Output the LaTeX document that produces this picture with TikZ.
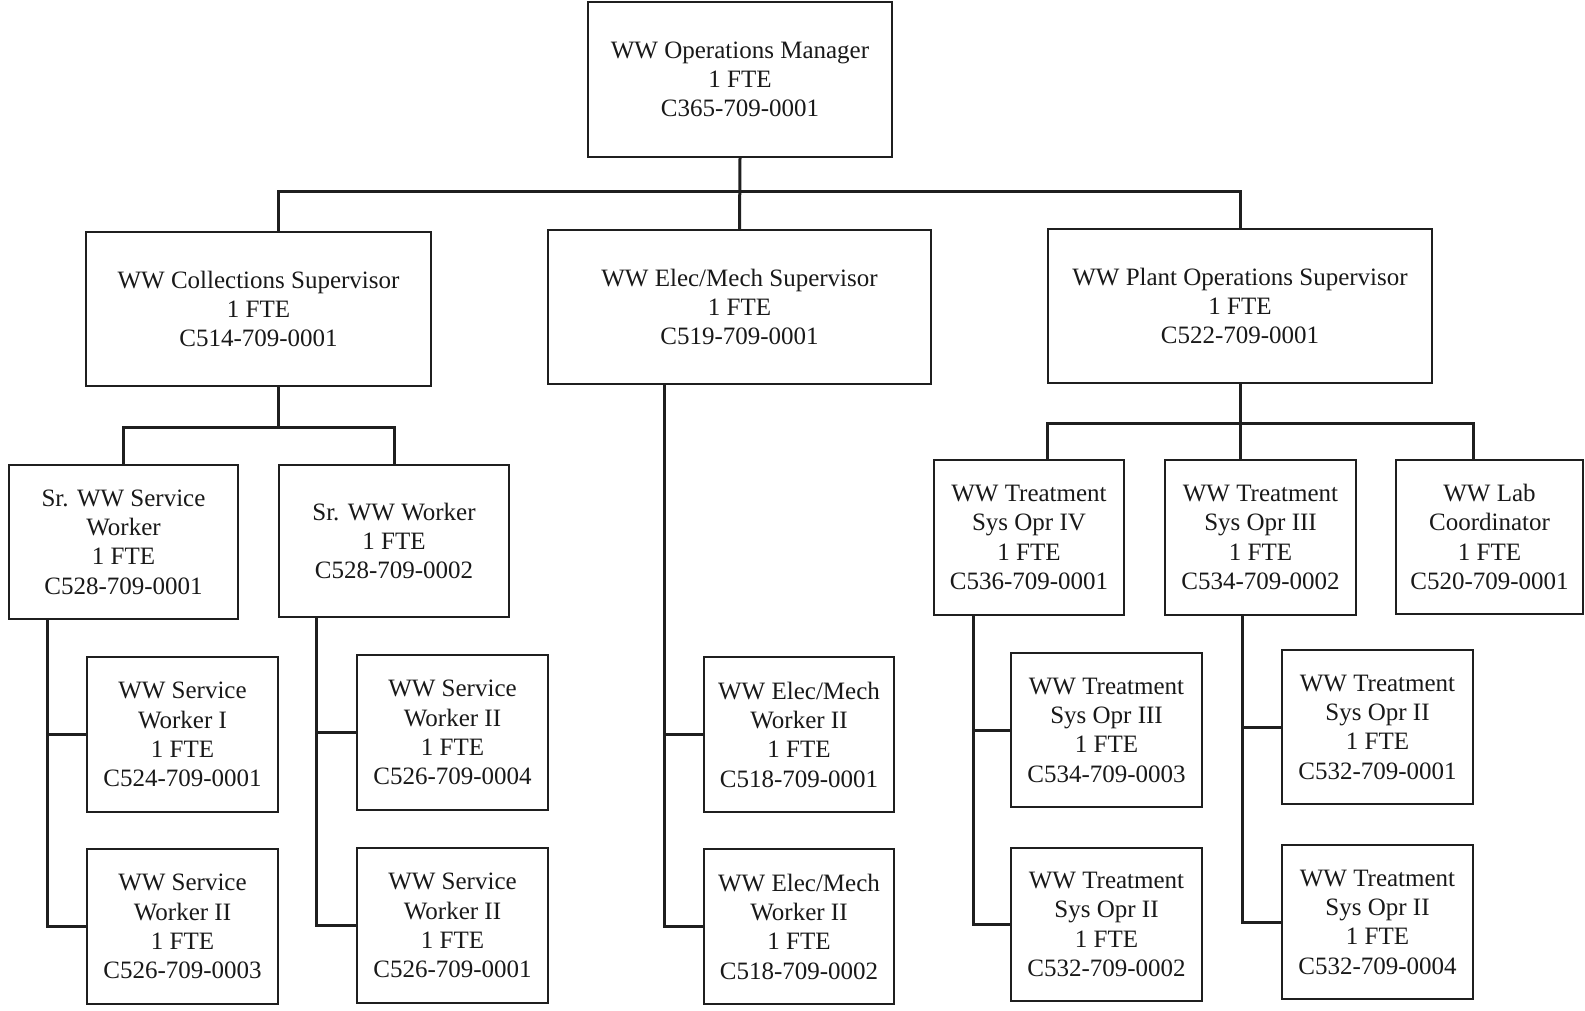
\documentclass[tikz,border=0pt]{standalone}
\usepackage{fontspec}
\setmainfont{Liberation Serif}
\begin{document}
\begin{tikzpicture}[x=1pt,y=-1pt,
  box/.style={draw=black!88, line width=1.8pt, inner sep=0pt, align=center, text=black!90,
    font=\fontsize{25}{29.3}\selectfont},
  conn/.style={draw=black!88, line width=3pt}]
\useasboundingbox[fill=white] (0,0) rectangle (1585,1011);

% top level
\node[box, minimum width=304, minimum height=155] (mgr) at (740,79.5) {WW Operations Manager\\1 FTE\\C365-709-0001};
% supervisors
\node[box, minimum width=345, minimum height=154] (coll) at (258.5,309) {WW Collections Supervisor\\1 FTE\\C514-709-0001};
\node[box, minimum width=383, minimum height=154] (elec) at (739.5,307) {WW Elec/Mech Supervisor\\1 FTE\\C519-709-0001};
\node[box, minimum width=384, minimum height=154] (plant) at (1240,306) {WW Plant Operations Supervisor\\1 FTE\\C522-709-0001};
% collections children
\node[box, minimum width=229, minimum height=154] (sr1) at (123.5,542) {Sr. WW Service\\Worker\\1 FTE\\C528-709-0001};
\node[box, minimum width=230, minimum height=152] (sr2) at (394,541) {Sr. WW Worker\\1 FTE\\C528-709-0002};
\node[box, minimum width=191, minimum height=155] (sw1) at (182.5,734.5) {WW Service\\Worker I\\1 FTE\\C524-709-0001};
\node[box, minimum width=191, minimum height=155] (sw2) at (182.5,926.5) {WW Service\\Worker II\\1 FTE\\C526-709-0003};
\node[box, minimum width=191, minimum height=155] (sw3) at (452.5,732.5) {WW Service\\Worker II\\1 FTE\\C526-709-0004};
\node[box, minimum width=191, minimum height=155] (sw4) at (452.5,925.5) {WW Service\\Worker II\\1 FTE\\C526-709-0001};
% elec/mech children
\node[box, minimum width=190, minimum height=155] (em1) at (799,734.5) {WW Elec/Mech\\Worker II\\1 FTE\\C518-709-0001};
\node[box, minimum width=190, minimum height=155] (em2) at (799,926.5) {WW Elec/Mech\\Worker II\\1 FTE\\C518-709-0002};
% plant children
\node[box, minimum width=190, minimum height=155] (t4) at (1029,537.5) {WW Treatment\\Sys Opr IV\\1 FTE\\C536-709-0001};
\node[box, minimum width=191, minimum height=155] (t3) at (1260.5,537.5) {WW Treatment\\Sys Opr III\\1 FTE\\C534-709-0002};
\node[box, minimum width=187, minimum height=154] (lab) at (1489.5,537) {WW Lab\\Coordinator\\1 FTE\\C520-709-0001};
\node[box, minimum width=191, minimum height=154] (ts1) at (1106.5,730) {WW Treatment\\Sys Opr III\\1 FTE\\C534-709-0003};
\node[box, minimum width=191, minimum height=153] (ts2) at (1106.5,924.5) {WW Treatment\\Sys Opr II\\1 FTE\\C532-709-0002};
\node[box, minimum width=191, minimum height=154] (ts3) at (1377.5,727) {WW Treatment\\Sys Opr II\\1 FTE\\C532-709-0001};
\node[box, minimum width=191, minimum height=154] (ts4) at (1377.5,922) {WW Treatment\\Sys Opr II\\1 FTE\\C532-709-0004};

% junction coordinates
\coordinate (cL) at (278,192);
\coordinate (cR) at (1240,192);
\coordinate (dC) at (278,427);
\coordinate (vA) at (47,0);
\coordinate (vB) at (316,0);
\coordinate (vC) at (664,0);
\coordinate (pP) at (1240,423);
\coordinate (pL) at (1047,423);
\coordinate (pR) at (1473,423);
\coordinate (vD) at (973,0);
\coordinate (vE) at (1242,0);

% connectors
\draw[conn] (mgr.south) -- (elec.north);
\draw[conn] (coll.north -| cL) -- (cL) -- (cR) -- (plant.north);
\draw[conn] (coll.south -| dC) -- (dC);
\draw[conn] (sr1.north) -- (sr1.north |- dC) -- (sr2.north |- dC) -- (sr2.north);
\draw[conn] (sr1.south -| vA) -- (vA |- sw2.west) -- (sw2.west);
\draw[conn] (vA |- sw1.west) -- (sw1.west);
\draw[conn] (sr2.south -| vB) -- (vB |- sw4.west) -- (sw4.west);
\draw[conn] (vB |- sw3.west) -- (sw3.west);
\draw[conn] (elec.south -| vC) -- (vC |- em2.west) -- (em2.west);
\draw[conn] (vC |- em1.west) -- (em1.west);
\draw[conn] (plant.south) -- (pP) -- (t3.north -| pP);
\draw[conn] (t4.north -| pL) -- (pL) -- (pR) -- (lab.north -| pR);
\draw[conn] (t4.south -| vD) -- (vD |- ts2.west) -- (ts2.west);
\draw[conn] (vD |- ts1.west) -- (ts1.west);
\draw[conn] (t3.south -| vE) -- (vE |- ts4.west) -- (ts4.west);
\draw[conn] (vE |- ts3.west) -- (ts3.west);
\end{tikzpicture}
\end{document}
